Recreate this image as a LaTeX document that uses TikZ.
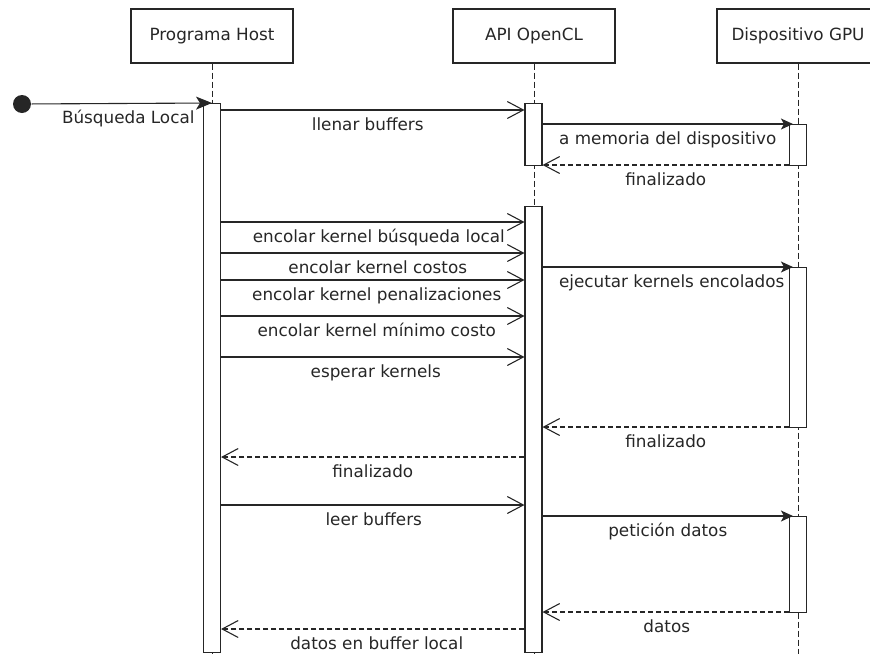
\documentclass[tikz,border=0pt]{standalone}
\usepackage{fontspec}
\setmainfont{DejaVu Sans}
\usetikzlibrary{arrows.meta}
\definecolor{ink}{gray}{0.15}

\begin{document}
\begin{tikzpicture}[x=1pt, y=-1pt, line width=1.1pt, color=ink,
  font=\fontsize{16.8}{20}\selectfont,
  header/.style={draw, fill=white, minimum width=162pt, minimum height=54pt, inner sep=0pt},
  act/.style={draw, fill=white, minimum width=17pt, inner sep=0pt, anchor=north},
  life/.style={line width=1pt, dash pattern=on 6pt off 3pt},
  call/.style={-{Straight Barb[length=16pt,width=17pt]}},
  reply/.style={dash pattern=on 5pt off 3pt, -{Straight Barb[length=16pt,width=17pt]}},
  async/.style={-{Stealth[length=12pt,width=11pt,inset=3pt]}, shorten >=-4pt},
  lab/.style={midway, anchor=base, yshift=-20pt, inner sep=0pt},
]
\useasboundingbox (0,0) rectangle (870,654);
\clip (0,0) rectangle (870,654);

% participants
\node[header] (host) at (212,36) {Programa Host};
\node[header] (api)  at (534,36) {API OpenCL};
\node[header] (gpu)  at (798,36) {Dispositivo GPU};

% lifelines
\coordinate (bottom) at (0,654);
\draw[life] (host.south) -- (host.south |- bottom);
\draw[life] (api.south)  -- (api.south |- bottom);
\draw[life] (gpu.south)  -- (gpu.south |- bottom);

% activation bars
\node[act, minimum height=549pt] (hA)  at (212,103) {};
\node[act, minimum height=62pt]  (aA1) at (533.5,103) {};
\node[act, minimum height=446pt] (aA2) at (533.5,206) {};
\node[act, minimum height=41pt]  (gA1) at (798,124) {};
\node[act, minimum height=160pt] (gA2) at (798,267) {};
\node[act, minimum height=96pt]  (gA3) at (798,516) {};

% initial message
\node[circle, fill, minimum size=18pt, inner sep=0pt] (start) at (22,104) {};
\draw[-{Stealth[length=16pt,width=13pt,inset=4pt]}] (start) -- (hA.north);
\node[anchor=base east, inner sep=0pt] (startlab) at (195,123) {Búsqueda Local};

% message rows
\coordinate (r1)  at (0,110);
\coordinate (r2)  at (0,124);
\coordinate (r3)  at (0,165);
\coordinate (r4)  at (0,222);
\coordinate (r5)  at (0,253);
\coordinate (r6)  at (0,280);
\coordinate (r7)  at (0,316);
\coordinate (r8)  at (0,357);
\coordinate (r9)  at (0,267);
\coordinate (r10) at (0,427);
\coordinate (r11) at (0,457);
\coordinate (r12) at (0,505);
\coordinate (r13) at (0,516);
\coordinate (r14) at (0,612);
\coordinate (r15) at (0,629);

\draw[call]  (hA.east |- r1) -- node[lab, xshift=-5pt] {llenar buffers} (aA1.west |- r1);
\draw[async] (aA1.east |- r2) -- node[lab, xshift=2pt] {a memoria del dispositivo} (gA1.west |- r2);
\draw[reply] (gA1.west |- r3) -- node[lab] {finalizado} (aA1.east |- r3);

\draw[call]  (hA.east |- r4) -- node[lab, xshift=6pt] {encolar kernel búsqueda local} (aA2.west |- r4);
\draw[call]  (hA.east |- r5) -- node[lab, xshift=5pt] {encolar kernel costos} (aA2.west |- r5);
\draw[call]  (hA.east |- r6) -- node[lab, xshift=4pt] {encolar kernel penalizaciones} (aA2.west |- r6);
\draw[call]  (hA.east |- r7) -- node[lab, xshift=4pt] {encolar kernel mínimo costo} (aA2.west |- r7);
\draw[call]  (hA.east |- r8) -- node[lab, xshift=3pt] {esperar kernels} (aA2.west |- r8);

\draw[async] (aA2.east |- r9) -- node[lab, xshift=6pt] {ejecutar kernels encolados} (gA2.west |- r9);
\draw[reply] (gA2.west |- r10) -- node[lab] {finalizado} (aA2.east |- r10);
\draw[reply] (aA2.west |- r11) -- node[lab] {finalizado} (hA.east |- r11);
\draw[call]  (hA.east |- r12) -- node[lab, xshift=1pt] {leer buffers} (aA2.west |- r12);

\draw[async] (aA2.east |- r13) -- node[lab, xshift=2pt] {petición datos} (gA3.west |- r13);
\draw[reply] (gA3.west |- r14) -- node[lab, xshift=1pt] {datos} (aA2.east |- r14);
\draw[reply] (aA2.west |- r15) -- node[lab, xshift=4pt] {datos en buffer local} (hA.east |- r15);
\end{tikzpicture}
\end{document}
